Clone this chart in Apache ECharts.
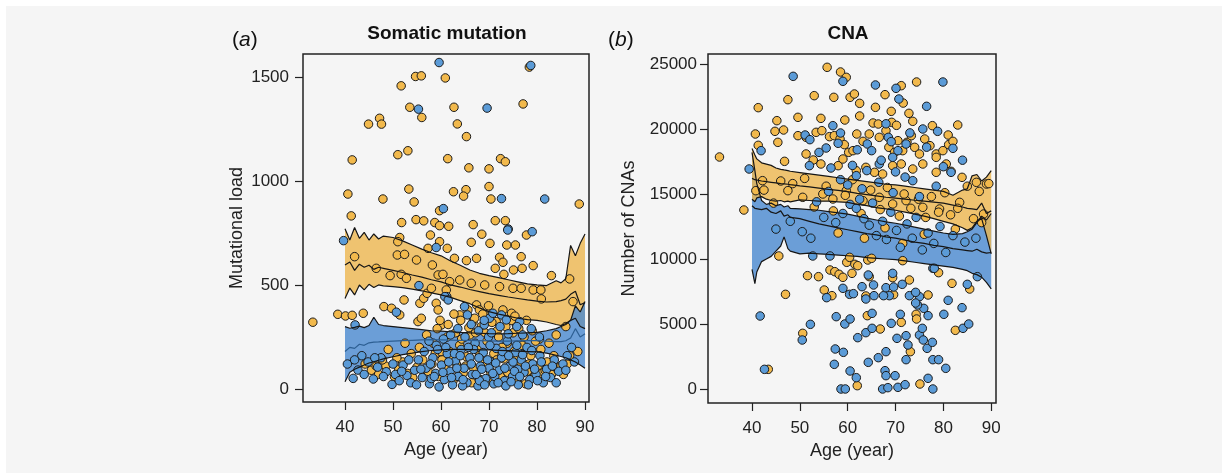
<!DOCTYPE html>
<html>
<head>
<meta charset="utf-8">
<script src="https://cdn.jsdelivr.net/npm/echarts@6/dist/echarts.min.js"></script>
<style>
  html, body { margin: 0; padding: 0; background: #fff; }
  #chart { position: absolute; left: 6px; top: 6px; width: 1216px; height: 467px; }
</style>
</head>
<body>
<div id="chart"></div>
<script>
// ---- tick labels ----
var ageTicks = [40, 50, 60, 70, 80, 90];
var mutTicks = [0, 500, 1000, 1500];
var cnaTicks = [0, 5000, 10000, 15000, 20000, 25000];

// ---- panel (a) somatic mutation: points [age, load] ----
var yellowA = [
  [78.4,1547],[54.7,1502],[55.9,1505],[60.9,1495],[51.7,1457],[53.5,1354],[62.7,1354],[77.1,1370],
  [47.2,1301],[44.9,1273],[47.6,1273],[56.0,1305],[63.4,1274],[65.3,1213],[51.0,1126],[53.1,1145],
  [41.5,1101],[61.4,1107],[72.4,1107],[73.4,1092],[65.8,1063],[70.0,1058],[40.6,937],[47.9,913],
  [53.3,961],[54.4,899],[62.6,948],[65.2,958],[64.7,927],[70.0,973],[70.4,913],[88.8,889],
  [41.3,832],[59.7,857],[51.8,800],[54.8,814],[56.4,808],[58.7,800],[59.7,785],[61.6,782],
  [66.7,790],[71.3,809],[73.4,809],
  [51.4,728],[51.0,708],[57.8,740],[59.7,708],[57.3,676],[61.3,676],[66.3,705],[68.5,744],
  [70.2,700],[77.8,740],[73.7,692],[75.5,692],[62.8,628],[65.3,617],[67.4,628],[72.2,633],
  [72.9,609],[76.7,636],[71.3,580],[73.1,551],[75.1,572],[76.9,580],[79.2,593],[83.0,545],
  [42.0,636],[46.5,580],[49.4,545],[51.7,551],[52.8,532],[50.9,644],[52.4,647],[54.9,620],
  [58.2,596],[59.4,548],[60.4,551],[61.8,516],[63.9,524],[66.3,508],[69.1,500],[72.2,492],
  [75.0,484],[76.7,484],[79.2,476],[80.8,476],[80.9,433],[86.8,529],
  [52.3,428],[48.1,396],[49.7,388],[51.4,356],[55.2,324],[55.9,340],[55.6,412],[56.4,436],
  [57.1,460],[58.0,484],[59.0,412],[59.4,380],[60.1,308],[61.1,476],[63.9,356],[67.4,404],
  [68.0,380],[69.1,356],[71.5,324],[74.7,364],[75.7,308],[66.7,324],
  [33.3,321],[38.5,359],[40.1,351],[41.5,354],[43.8,364],
  [44.2,120],[45.5,90],[47.0,70],[48.5,110],[50.3,60],[51.2,95],[52.0,130],[53.0,75],[54.1,55],
  [55.0,105],[56.2,140],[57.3,85],[58.1,120],[58.8,170],[59.5,60],[60.2,140],[61.0,95],[61.8,180],
  [62.5,40],[63.2,120],[63.9,210],[64.6,75],[65.3,155],[66.0,260],[66.8,100],[67.5,190],[68.2,45],
  [68.9,130],[69.6,230],[70.3,85],[71.0,170],[71.7,280],[72.4,60],[73.1,145],[73.8,220],[74.5,95],
  [75.2,180],[75.9,40],[76.6,130],[77.3,250],[78.0,85],[78.7,160],[79.4,60],[80.2,110],[81.0,75],
  [82.1,130],[83.0,70],[84.2,100],[85.5,70],[86.3,120],[57.0,260],[59.2,290],[61.5,310],[63.0,270],
  [64.1,330],[65.8,295],[67.0,340],[68.4,300],[69.2,270],[70.6,320],[72.0,250],[73.5,300],[75.0,270],
  [76.2,290],[77.8,330],[79.0,280],[80.5,240],[82.5,220],[84.0,260],[86.0,300],[87.5,420],[88.5,180],
  [58.4,220],[60.0,180],[61.3,250],[62.2,145],[63.5,60],[64.3,240],[65.1,110],[66.4,30],[67.2,270],
  [68.0,160],[68.7,360],[69.5,115],[70.9,35],[71.6,140],[72.7,200],[73.9,80],[74.7,330],[75.6,150],
  [76.9,210],[77.6,25],[78.3,120],[79.7,230],[80.8,190],[81.7,90],[83.5,160],[85.0,110],[86.8,160],
  [55.5,200],[53.8,170],[52.5,220],[50.8,150],[49.0,190],[47.8,140],[46.5,110],[59.8,330],[62.7,360],
  [65.6,380],[69.9,400],[72.9,380],[75.4,350]
];
var blueA = [
  [59.6,1569],[78.7,1555],[55.3,1345],[69.6,1350],[72.6,915],[81.6,913],[60.5,867],[74.0,769],
  [39.7,713],[59.0,680],[73.9,764],[79.0,756],[55.4,497],[61.2,444],
  [50.7,369],[60.8,444],[61.5,428],[64.9,396],[65.5,356],[70.1,340],[70.8,364],[72.6,356],
  [73.6,332],[76.4,324],[69.0,308],[42.1,308],
  [40.5,120],[41.7,51],[42.7,91],[43.5,160],[44.8,130],[45.9,48],[46.8,105],[47.5,150],[48.6,83],
  [49.8,22],[50.5,70],[51.3,40],[52.1,115],[52.9,65],[53.7,30],[54.5,90],[55.3,140],[56.1,55],
  [56.9,100],[57.6,25],[58.3,150],[58.9,75],[59.6,10],[60.1,115],[60.7,45],[61.3,170],[61.9,85],
  [62.4,20],[63.0,135],[63.6,60],[64.2,190],[64.8,100],[65.4,30],[66.0,150],[66.5,70],[67.1,220],
  [67.7,15],[68.2,110],[68.8,175],[69.3,50],[69.9,250],[70.4,130],[71.0,25],[71.5,195],[72.1,90],
  [72.6,150],[73.2,40],[73.8,230],[74.3,110],[74.9,60],[75.5,175],[76.1,20],[76.7,140],[77.3,80],
  [77.9,200],[78.5,45],[79.1,120],[79.8,70],[80.6,160],[81.3,30],[82.0,95],[82.8,55],[83.6,140],
  [84.5,85],[85.4,120],[86.3,160],[87.2,200],[62.0,260],[63.5,290],[65.0,250],[66.3,310],[67.8,280],
  [69.0,330],[70.5,270],[72.3,300],[74.0,265],[75.8,300],[77.0,260],[78.8,290],[80.5,250],[57.5,230],
  [59.0,210],[60.5,240],[68.0,40],[71.2,60],[73.5,15],[76.0,95],[58.0,50],[64.5,15],[66.8,190],
  [70.0,100],[75.0,130],[61.0,200],[62.8,170],
  [56.5,180],[57.8,120],[58.6,60],[59.3,190],[60.4,80],[61.6,130],[62.2,55],[63.3,100],[64.0,160],
  [64.6,45],[65.7,200],[66.3,120],[67.3,70],[67.9,150],[68.5,95],[69.1,20],[69.7,140],[70.2,210],
  [70.8,75],[71.4,125],[71.9,30],[72.8,180],[73.3,100],[74.1,160],[74.6,35],[75.3,85],[75.8,210],
  [76.4,60],[77.0,165],[77.6,110],[78.2,20],[78.9,185],[79.5,95],[80.1,40],[80.9,130],[81.8,60],
  [83.2,110],[84.0,30],[86.0,90],[87.8,130],[50.0,120],[51.8,85],[53.3,140],[54.9,20],[55.8,95],
  [48.0,60],[46.2,150],[44.0,70],[42.0,140]
];

// ---- panel (a) bands ----
var bandAgeA = [40,41,42,43,44,45,46,47,48,50,52,54,56,58,60,62,64,66,68,70,72,74,76,78,80,82,84,85,86,87,88,89,90];
var yellowUpA = [770,716,776,724,753,716,745,721,735,728,712,692,672,655,640,615,595,572,556,545,535,525,515,505,500,497,520,510,530,690,640,700,745];
var yellowMidA = [596,610,570,600,585,595,575,585,580,570,560,548,538,525,515,500,490,478,468,458,450,442,435,428,422,418,420,425,432,455,470,405,415];
var yellowLoA = [435,485,452,500,476,503,488,500,496,492,487,480,472,462,452,440,425,410,390,372,360,350,340,333,330,322,310,305,315,330,340,300,290];
var blueUpA = [300,292,296,302,295,305,345,310,305,300,295,290,285,280,278,275,272,270,268,266,265,266,268,270,272,280,290,300,310,330,400,370,420];
var blueMidA = [180,200,195,215,210,222,225,226,228,230,232,234,236,237,236,235,234,233,232,231,230,230,231,232,232,230,228,228,232,245,290,250,265];
var blueLoA = [35,80,95,105,115,125,131,138,145,155,165,172,180,185,188,190,190,189,188,188,186,184,182,180,178,172,162,156,150,140,130,115,100];

// ---- panel (b) CNA: points [age, count] ----
var yellowB = [
  [33.2,17846],[55.7,24744],[58.5,24385],[59.7,23974],[74.4,23615],[71.2,23333],[67.8,22641],
  [41.3,21641],[47.5,22256],[53.0,22564],[57.1,22436],[60.5,22436],[61.4,22692],[62.5,21974],
  [65.8,21667],[69.1,21359],[71.6,21995],[72.8,21205],[49.6,20897],[54.4,20820],[59.4,20692],
  [62.5,21000],[65.3,20461],[66.4,20384],[69.2,20513],[70.2,20282],[73.6,20590],[45.2,20641],
  [40.7,19615],[44.8,19820],[46.6,19923],[45.4,18974],[41.3,18744],[83.0,20308],[77.7,20256],
  [81.0,19538],[81.1,18795],[46.8,17513],[38.3,13769],
  [49.6,19487],[51.3,19359],[53.4,19744],[54.6,19872],[56.2,19410],[57.2,19487],[58.4,19231],
  [59.3,18795],[60.2,18205],[61.1,18333],[61.9,19615],[63.2,19051],[64.5,19615],[66.6,19359],
  [68.0,19872],[68.6,18590],[69.8,18205],[70.5,19102],[71.5,18333],[72.4,18974],[73.3,19487],
  [74.0,18590],[75.0,18077],[76.1,19231],[77.2,18718],[78.5,18077],[79.9,18333],[82.0,19051],
  [83.9,16282],[51.3,18077],[52.8,17615],[54.4,17308],[58.0,17180],[59.0,17692],[61.8,16795],
  [63.8,17051],[65.6,16667],[67.3,16538],[69.4,17180],[71.2,17308],[73.6,16923],[75.7,17308],
  [78.5,17820],[80.6,17308],[81.6,16744],[78.5,16667],
  [40.8,15256],[42.2,16026],[47.5,15256],[50.6,14744],[54.8,15000],[56.9,14615],[59.7,15256],
  [63.2,14487],[66.6,14744],[69.4,14231],[72.2,14487],[75.7,13974],[79.2,13846],[83.4,14359],
  [86.9,15897],[89.0,15769],[88.4,13461],
  [48.5,15800],[51.0,16200],[53.0,14000],[55.5,15600],[57.0,13700],[59.5,14900],[61.0,16100],
  [62.8,13500],[64.8,15300],[66.8,13800],[68.3,15500],[70.8,13300],[71.8,15000],[73.2,13900],
  [74.8,14600],[76.3,13200],[77.5,14800],[79.0,13600],[80.3,15100],[81.5,13400],[83.0,13900],
  [85.0,15600],[86.3,13100],[87.5,15200],[89.5,15800],[42.5,15300],[44.5,14300],[46.0,16000],
  [58.0,12000],[63.5,11600],[67.8,12400],[71.5,11200],[76.0,11900],[82.5,12300],[88.0,12800],
  [45.6,10231],[47.0,7282],[51.6,8718],[53.9,8641],[50.6,4282],[43.4,1513],[55.1,7615],[56.7,7179],
  [56.3,9154],[57.3,9026],[58.2,8821],[59.0,8590],[59.8,9744],[60.9,8897],[61.5,9590],[62.1,9487],
  [64.2,9923],[65.0,10051],[64.5,8641],[64.1,5641],[63.8,7154],[66.8,4615],[69.4,8564],[69.6,7256],
  [71.2,5128],[72.9,8385],[73.1,2872],[74.3,5744],[74.4,5385],[76.8,7231],[79.0,8949],[81.8,8128],
  [82.5,4513],[85.5,7692],[75.1,385],[62.0,256],[71.5,9872],[60.4,10128]
];
var blueB = [
  [48.6,24051],[59.0,23667],[65.8,23385],[70.1,23128],[79.9,23615],[70.7,22308],[76.5,21744],
  [56.9,20256],[51.1,19538],[52.1,19179],[55.5,18538],[58.5,19692],[64.1,18846],[65.0,18333],
  [68.5,19359],[69.1,19026],[69.4,17820],[70.5,18333],[72.2,18846],[75.7,20000],[78.8,19820],
  [82.0,18513],[41.9,18333],[39.4,16923],[52.0,17180],[61.8,16410],[66.6,17308],[73.6,16026],
  [81.6,16667],
  [55.0,13200],[57.5,12800],[59.0,13500],[60.5,14200],[61.8,13900],[62.5,14600],[63.4,13100],
  [64.5,12600],[65.2,14300],[66.0,11800],[67.3,12900],[68.1,11500],[69.0,13600],[70.2,12200],
  [71.0,10900],[72.4,12700],[73.5,11600],[74.3,13200],[75.6,10700],[76.8,12000],[78.0,11200],
  [79.3,12500],[80.5,10500],[82.0,11800],[84.5,11300],[86.8,11600],[50.5,12100],[52.3,11600],
  [48.0,12900],[45.0,12300],[53.5,14400],[56.0,15200],[58.5,16100],[60.0,15700],[63.0,15400],
  [66.5,15900],[69.5,15100],[72.0,16300],[75.0,14800],[78.5,15600],[61.0,17200],[64.0,16800],
  [67.0,17600],[70.0,16700],[56.5,17000],[54.0,18200],[58.0,18900],[62.0,18400],[68.0,20400],
  [73.0,19700],[76.5,18600],[80.0,17100],[84.0,17600],
  [41.7,5615],[42.6,1513],[52.2,4974],[50.5,3769],[57.4,3077],[57.2,1897],[59.1,2821],[57.6,5564],
  [59.4,5000],[60.5,5385],[62.1,3949],[60.5,1385],[61.8,872],[58.6,0],[59.5,0],[63.0,7871],
  [65.4,8000],[63.8,6923],[65.1,5820],[63.8,4333],[65.1,4667],[64.3,2051],[66.4,2410],[68.0,2872],
  [67.8,1410],[68.0,1026],[67.3,0],[68.4,103],[69.9,1026],[70.5,128],[72.0,333],[70.3,3897],
  [69.1,5051],[71.0,5744],[72.2,4103],[72.6,3385],[72.2,2256],[75.0,4154],[75.6,4667],[75.8,3769],
  [76.6,3128],[77.7,3590],[77.8,2256],[79.0,2256],[80.5,1590],[76.8,820],[77.8,0],[75.0,7102],
  [75.9,6205],[76.8,5641],[80.1,5744],[83.9,6256],[84.1,4667],[85.3,5000],[81.0,6820],[74.6,6461],
  [74.2,6615],[72.9,7179],[68.7,7179],[67.5,7179],[65.5,7179],[60.4,7282],[61.2,7333],[59.0,7744],
  [55.6,7026],[68.0,7795],[69.6,7846],[71.4,8051],[74.2,7436],[77.8,9282],[78.1,9282],[85.0,8051],
  [87.1,8641],[69.4,8897],[64.3,8769],[56.3,10231],[52.7,10231]
];

// ---- panel (b) bands ----
var bandAgeB = [40,40.6,41,42,43,44,45,46,46.7,47.5,48,50,52,54,56,58,60,62,64,66,68,70,72,74,76,78,80,82,84,85,86,87,88,89,90];
var yellowUpB = [18500,18000,17700,17400,17300,17200,17000,16900,16850,16800,16750,16650,16550,16450,16350,16250,16150,16050,15950,15850,15750,15700,15600,15500,15400,15300,15200,14900,15300,15400,16400,16500,16000,16300,16800];
var yellowMidB = [16200,16100,16050,16000,15950,15900,15850,15800,15780,15750,15720,15620,15550,15450,15350,15280,15180,15050,14950,14850,14750,14680,14600,14520,14450,14380,14300,14150,14000,13900,13850,13800,14300,13500,13700];
var yellowLoB = [14600,14400,14700,14800,14600,14500,14450,14500,14400,14450,14400,14550,14500,14450,14450,14400,14350,14200,14100,13950,13850,13750,13600,13450,13300,13100,12900,12700,12400,12200,12400,12900,13100,11800,10400];
var blueUpB = [18200,16800,15800,14500,14200,14300,14100,14200,14000,14100,13900,13850,13800,13750,13650,13550,13450,13300,13150,13000,12850,12750,12600,12450,12300,12150,12000,11900,11950,12100,12300,12800,13300,13000,13500];
var blueMidB = [14100,13900,14000,13800,13900,13600,13500,13700,13300,13400,13200,13100,12900,12700,12550,12400,12250,12100,11950,11850,11700,11600,11450,11300,11200,11050,10950,10800,10700,10650,10600,10750,10550,10450,10500];
var blueLoB = [9200,8100,9000,9800,10000,10200,10600,11000,11700,10800,10600,10400,10450,10400,10350,10300,10250,10200,10100,10050,10000,9950,9850,9750,9650,9550,9450,9350,9200,9100,8900,8800,8600,8200,7700];

var YELLOW = '#F2B94C';
var BLUE = '#5B9BD7';
var YELLOW_BAND = 'rgba(237,183,79,0.8)';
var BLUE_BAND = 'rgba(72,136,208,0.8)';
var FONT = '"Liberation Sans", Arial, sans-serif';

function pairs(xs, ys) {
    return xs.map(function (x, i) { return [x, ys[i]]; });
}

function dots(idx, pts, color) {
    return {
        type: 'scatter', xAxisIndex: idx, yAxisIndex: idx, data: pts,
        symbolSize: 8.5, silent: true,
        itemStyle: { color: color, borderColor: '#1b1b1b', borderWidth: 1, opacity: 1 }
    };
}

// filled confidence band, polygon built from library coordinates
function band(idx, xs, lo, hi, fill) {
    return {
        type: 'custom', xAxisIndex: idx, yAxisIndex: idx, data: [[xs[0], lo[0]]], silent: true,
        renderItem: function (params, api) {
            var top = xs.map(function (x, i) { return api.coord([x, hi[i]]); });
            var bot = xs.map(function (x, i) { return api.coord([x, lo[i]]); }).reverse();
            return { type: 'polygon', shape: { points: top.concat(bot) }, style: { fill: fill } };
        }
    };
}

function edge(idx, xs, ys, color) {
    return {
        type: 'line', xAxisIndex: idx, yAxisIndex: idx, data: pairs(xs, ys),
        symbol: 'none', silent: true,
        lineStyle: { color: color || '#161616', width: 1.2 }
    };
}

function plain(v) { return String(v); }

function xAx(idx, min, max) {
    return {
        type: 'value', gridIndex: idx, min: min, max: max,
        splitLine: { show: false }, axisLine: { show: false, onZero: false },
        axisTick: { show: true, inside: false, length: 8, customValues: ageTicks, lineStyle: { color: '#222', width: 1.2 } },
        axisLabel: { customValues: ageTicks, formatter: plain, margin: 17, fontSize: 17, color: '#222', fontFamily: FONT },
        name: 'Age (year)', nameLocation: 'middle', nameGap: 38,
        nameTextStyle: { fontSize: 18, color: '#222', fontFamily: FONT }
    };
}

function yAx(idx, min, max, ticks, name, gap, margin) {
    return {
        type: 'value', gridIndex: idx, min: min, max: max,
        splitLine: { show: false }, axisLine: { show: false, onZero: false },
        axisTick: { show: true, inside: false, length: 8, customValues: ticks, lineStyle: { color: '#222', width: 1.2 } },
        axisLabel: { customValues: ticks, formatter: plain, margin: margin, fontSize: 17, color: '#222', fontFamily: FONT },
        name: name, nameLocation: 'middle', nameGap: gap,
        nameTextStyle: { fontSize: 18, color: '#222', fontFamily: FONT }
    };
}

var chart = echarts.init(document.getElementById('chart'));

chart.setOption({
    animation: false,
    backgroundColor: '#f5f5f5',
    graphic: [
        { type: 'text', x: 441, y: 28, style: { text: 'Somatic mutation', font: 'bold 19px ' + FONT, fill: '#111', align: 'center', verticalAlign: 'middle' } },
        { type: 'text', x: 842, y: 28, style: { text: 'CNA', font: 'bold 19px ' + FONT, fill: '#111', align: 'center', verticalAlign: 'middle' } },
        { type: 'text', x: 226, y: 34, style: { text: '({i|a})', font: '21px ' + FONT, fill: '#111', verticalAlign: 'middle', rich: { i: { fontStyle: 'italic', fontSize: 21, fontFamily: FONT } } } },
        { type: 'text', x: 602, y: 34, style: { text: '({i|b})', font: '21px ' + FONT, fill: '#111', verticalAlign: 'middle', rich: { i: { fontStyle: 'italic', fontSize: 21, fontFamily: FONT } } } }
    ],
    grid: [
        { left: 297, top: 48, width: 286, height: 348, show: true, borderColor: '#222', borderWidth: 1.5, backgroundColor: 'transparent' },
        { left: 702, top: 48, width: 288, height: 349, show: true, borderColor: '#222', borderWidth: 1.5, backgroundColor: 'transparent' }
    ],
    xAxis: [xAx(0, 31.25, 90.83), xAx(1, 30.8, 91.0)],
    yAxis: [
        yAx(0, -62.5, 1610, mutTicks, 'Mutational load', 57, 14),
        yAx(1, -1077, 25769, cnaTicks, 'Number of CNAs', 70, 11)
    ],
    series: [
        // panel (a)
        dots(0, yellowA, YELLOW),
        dots(0, blueA, BLUE),
        band(0, bandAgeA, yellowLoA, yellowUpA, YELLOW_BAND),
        band(0, bandAgeA, blueLoA, blueUpA, BLUE_BAND),
        edge(0, bandAgeA, yellowUpA),
        edge(0, bandAgeA, yellowMidA),
        edge(0, bandAgeA, yellowLoA),
        edge(0, bandAgeA, blueUpA),
        edge(0, bandAgeA, blueMidA, '#2d5f93'),
        edge(0, bandAgeA, blueLoA),
        // panel (b)
        dots(1, yellowB, YELLOW),
        dots(1, blueB, BLUE),
        band(1, bandAgeB, blueLoB, blueUpB, BLUE_BAND),
        band(1, bandAgeB, yellowLoB, yellowUpB, YELLOW_BAND),
        edge(1, bandAgeB, yellowUpB),
        edge(1, bandAgeB, yellowMidB),
        edge(1, bandAgeB, yellowLoB),
        edge(1, bandAgeB, blueUpB),
        edge(1, bandAgeB, blueMidB),
        edge(1, bandAgeB, blueLoB)
    ]
});
</script>
</body>
</html>
